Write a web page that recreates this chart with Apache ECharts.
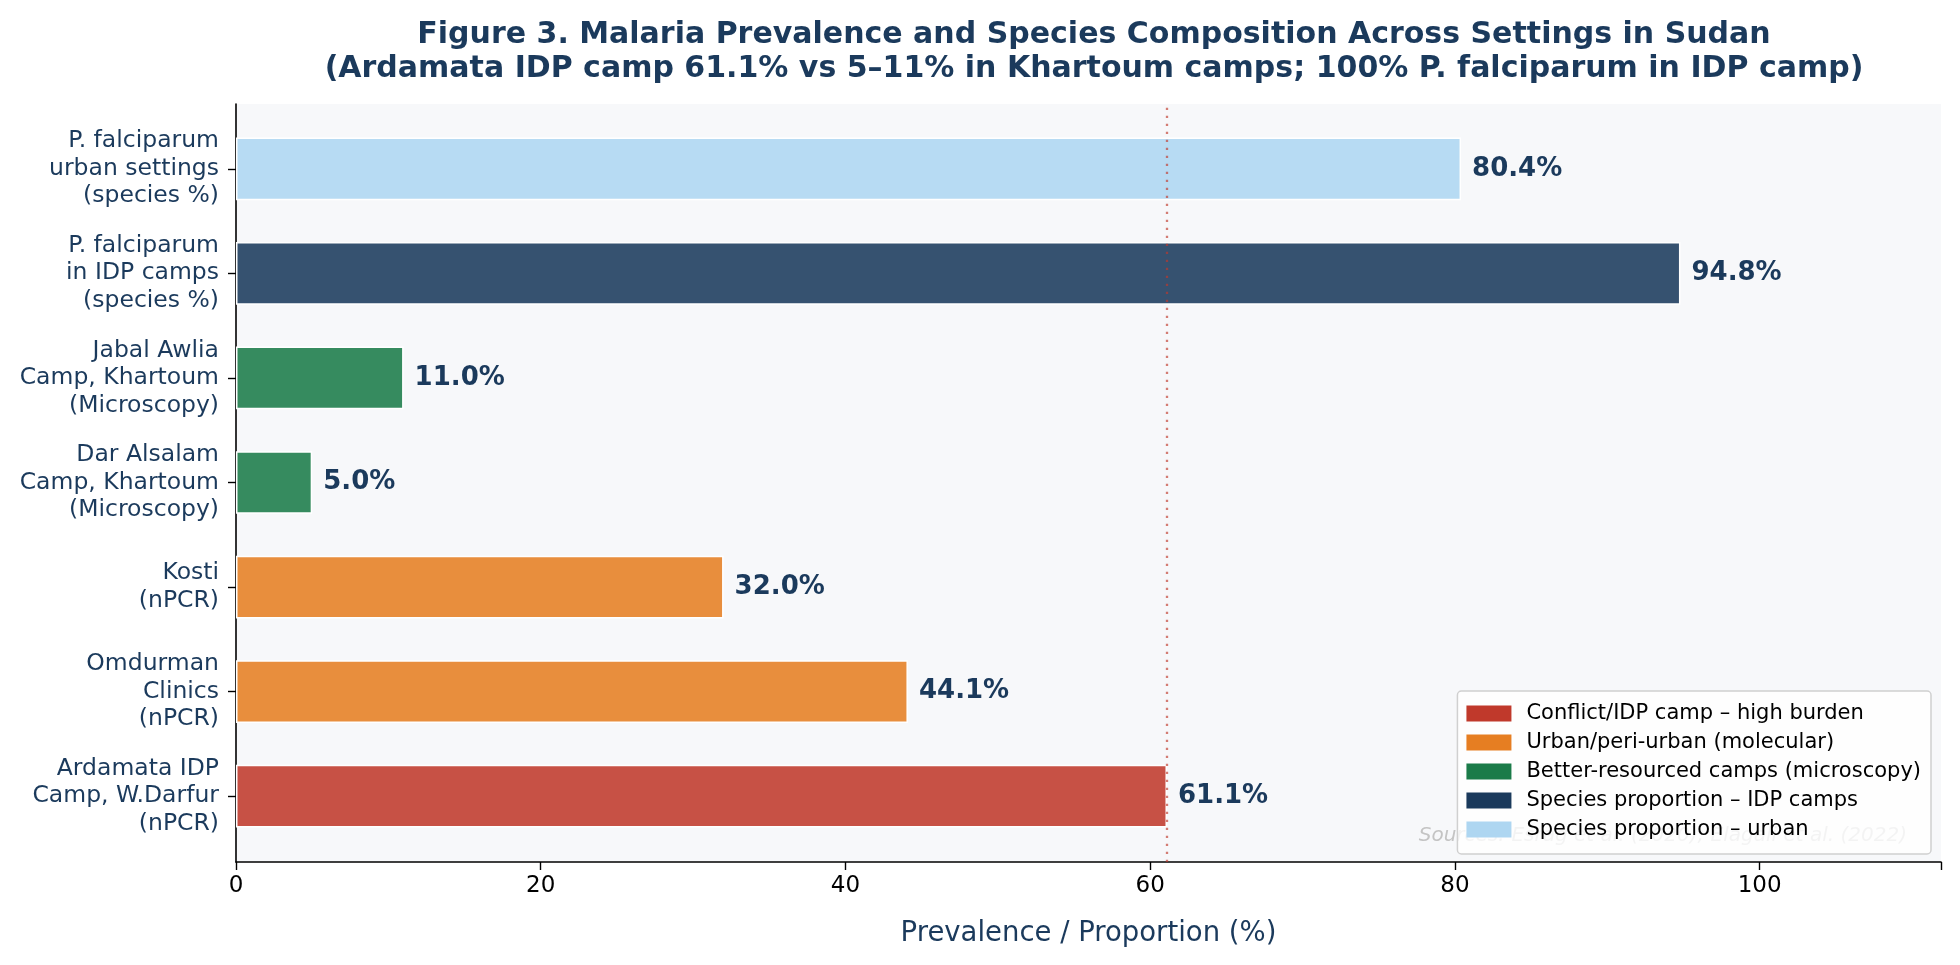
<!DOCTYPE html>
<html>
<head>
<meta charset="utf-8">
<script src="https://cdn.jsdelivr.net/npm/echarts@6/dist/echarts.min.js"></script>
<style>
  html, body { margin: 0; padding: 0; background: #fff; }
  #chart { width: 1960px; height: 965px; }
</style>
</head>
<body>
<div id="chart"></div>
<script>
// categories bottom -> top, as in the figure
var categories = [
    'Ardamata IDP\nCamp, W.Darfur\n(nPCR)',
    'Omdurman\nClinics\n(nPCR)',
    'Kosti\n(nPCR)',
    'Dar Alsalam\nCamp, Khartoum\n(Microscopy)',
    'Jabal Awlia\nCamp, Khartoum\n(Microscopy)',
    'P. falciparum\nin IDP camps\n(species %)',
    'P. falciparum\nurban settings\n(species %)'
];
var values = [61.1, 44.1, 32.0, 5.0, 11.0, 94.8, 80.4];
// which legend group each bar belongs to
var barGroup = [0, 1, 1, 2, 2, 3, 4];
var groupNames = [
    'Conflict/IDP camp \u2013 high burden',
    'Urban/peri-urban (molecular)',
    'Better-resourced camps (microscopy)',
    'Species proportion \u2013 IDP camps',
    'Species proportion \u2013 urban'
];
var groupColors = ['#c0392b', '#e67e22', '#1b7b49', '#1b3a5c', '#aed6f1'];
var xTicks = [0, 20, 40, 60, 80, 100];
var refLine = 61.1;
var sourceNote = 'Sources: Esrag et al. (2020); Elagali et al. (2022)';

var navy = '#1b3a5c';
var font = 'DejaVu Sans';

function withAlpha(hex, a) {
    var r = parseInt(hex.slice(1, 3), 16), g = parseInt(hex.slice(3, 5), 16), b = parseInt(hex.slice(5, 7), 16);
    return 'rgba(' + r + ',' + g + ',' + b + ',' + a + ')';
}

var series = groupNames.map(function (name, g) {
    return {
        name: name,
        type: 'bar',
        xAxisIndex: 1,
        yAxisIndex: 1,
        barWidth: '60%',
        barGap: '-100%',
        data: values.map(function (v, i) { return barGroup[i] === g ? v : '-'; }),
        itemStyle: { color: withAlpha(groupColors[g], 0.88), borderColor: '#ffffff', borderWidth: 1.5 },
        label: {
            show: true,
            position: 'right',
            distance: 11,
            color: navy,
            fontFamily: font,
            fontWeight: 'bold',
            fontSize: 26,
            formatter: function (p) { return p.value.toFixed(1) + '%'; }
        },
        z: 3
    };
});

// reference line on the frame grid so it spans the full plot height
series.push({
    type: 'line',
    xAxisIndex: 0,
    yAxisIndex: 0,
    data: [[refLine, 0.5]],
    showSymbol: false,
    lineStyle: { opacity: 0 },
    silent: true,
    markLine: {
        silent: true,
        symbol: 'none',
        label: { show: false },
        lineStyle: { color: withAlpha('#c0392b', 0.65), width: 2.3, type: [2.3, 5.7] },
        data: [{ xAxis: refLine }]
    },
    z: 4
});

var chart = echarts.init(document.getElementById('chart'));
chart.setOption({
    backgroundColor: '#ffffff',
    animation: false,
    title: {
        text: 'Figure 3. Malaria Prevalence and Species Composition Across Settings in Sudan\n(Ardamata IDP camp 61.1% vs 5\u201311% in Khartoum camps; 100% P. falciparum in IDP camp)',
        left: 1089,
        top: 13,
        textAlign: 'center',
        textStyle: { color: navy, fontFamily: font, fontWeight: 'bold', fontSize: 30, lineHeight: 34 }
    },
    legend: {
        orient: 'vertical',
        right: 29,
        top: 691,
        padding: [12, 10, 14, 9],
        itemWidth: 45,
        itemHeight: 16,
        itemGap: 8,
        icon: 'rect',
        backgroundColor: 'rgba(255,255,255,0.8)',
        borderColor: '#d0d0d0',
        borderWidth: 1.5,
        borderRadius: 4,
        textStyle: { color: '#000', fontFamily: font, fontSize: 21, padding: [0, 0, 0, 10] },
        data: groupNames.map(function (n, g) {
            return { name: n, itemStyle: { color: groupColors[g], borderWidth: 0 } };
        }),
        z: 10
    },
    graphic: [{
        type: 'text',
        right: 1960 - 1907,
        top: 826,
        z: 1,
        style: { text: sourceNote, fill: '#c4c4c4', font: 'italic 20px "DejaVu Sans"' }
    }],
    grid: [
        { left: 236, right: 19, top: 104, bottom: 103, show: true, backgroundColor: '#f7f8fa', borderWidth: 0 },
        { left: 236, right: 19, top: 116.5, bottom: 116.5 }
    ],
    xAxis: [{
        gridIndex: 0,
        type: 'value',
        min: 0,
        max: 111.9,
        interval: 20,
        name: 'Prevalence / Proportion (%)',
        nameLocation: 'middle',
        nameGap: 58,
        nameTextStyle: { color: navy, fontFamily: font, fontSize: 27.5 },
        axisLine: { show: true, lineStyle: { color: '#000', width: 1.6 } },
        axisTick: { show: true, length: 8, lineStyle: { color: '#000', width: 1.4 } },
        axisLabel: {
            color: '#000', fontFamily: font, fontSize: 23, margin: 13,
            formatter: function (v) { return xTicks.indexOf(v) >= 0 ? String(v) : ''; }
        },
        splitLine: { show: false }
    }, {
        gridIndex: 1,
        type: 'value',
        min: 0,
        max: 111.9,
        show: false
    }],
    yAxis: [{
        gridIndex: 0,
        type: 'value',
        min: 0,
        max: 1,
        axisLine: { show: true, onZero: false, lineStyle: { color: '#000', width: 1.6 } },
        axisTick: { show: false },
        axisLabel: { show: false },
        splitLine: { show: false }
    }, {
        gridIndex: 1,
        type: 'category',
        data: categories,
        axisLine: { show: false },
        axisTick: { show: true, alignWithLabel: true, length: 8, lineStyle: { color: '#000', width: 1.4 } },
        axisLabel: {
            color: navy, fontFamily: font, fontSize: 23.5, lineHeight: 27.5, margin: 17, align: 'right',
            padding: [10, 0, 0, 0]
        },
        splitLine: { show: false }
    }],
    series: series
});
</script>
</body>
</html>
